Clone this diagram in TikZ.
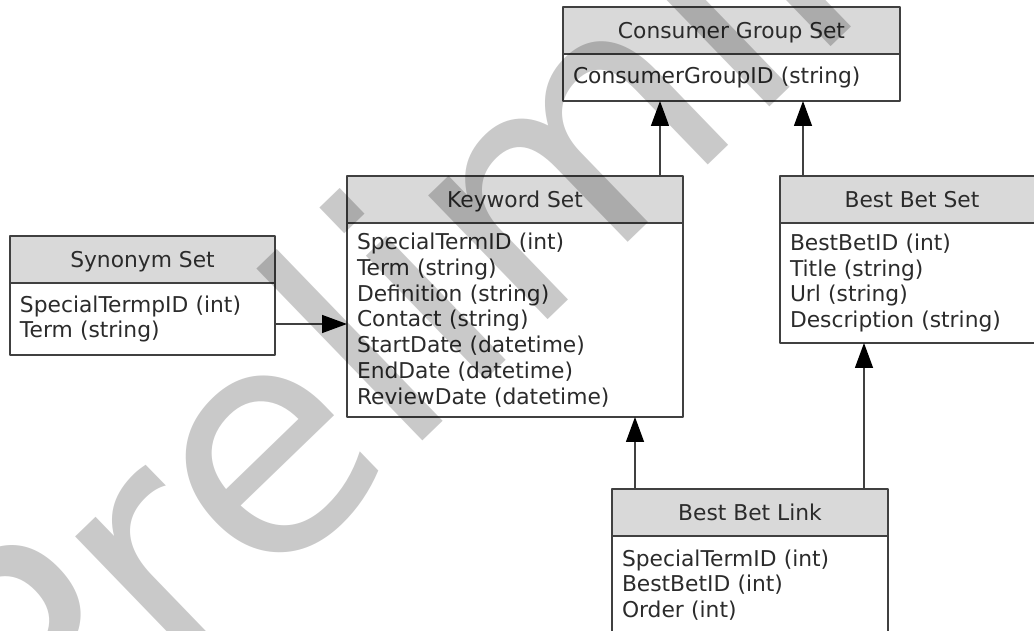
\documentclass[tikz,border=0pt]{standalone}
\usepackage{fontspec}
\newfontfamily\entfont{DejaVu Sans}
\usetikzlibrary{arrows.meta}
\definecolor{boxline}{HTML}{404040}
\definecolor{headfill}{HTML}{D9D9D9}
\definecolor{inktext}{HTML}{2B2B2B}
\tikzset{
	entity/.style={draw=boxline, line width=1pt, anchor=north west, outer sep=0pt, inner xsep=0.2cm, inner ysep=0pt, text=inktext, font=\entfont\fontsize{12.4}{14.7}\selectfont},
	ehead/.style={entity, fill=headfill, minimum height=0.94cm, text height=9pt, text depth=0pt},
	ebody/.style={entity, fill=white, align=left},
	rel/.style={draw=boxline, line width=0.8pt, -{Triangle[length=0.5cm, width=0.36cm, color=black]}},
	wmark/.style={font=\entfont\fontsize{179}{179}\selectfont, text=black, opacity=0.21, inner sep=0pt, anchor=base west, rotate=44}
}
\begin{document}
\begin{tikzpicture}[x=0.02cm, y=-0.02cm, line join=round]
	\useasboundingbox (0,0) rectangle (1034,631);
	\clip (0,0) rectangle (1034,631);
	\foreach \n/\x/\y/\w/\h/\t/\b in {
		cg/563/7/337/47/{Consumer Group Set}/{ConsumerGroupID (string)},
		kw/347/176/336/194/{Keyword Set}/{SpecialTermID (int)\\Term (string)\\Definition (string)\\Contact (string)\\StartDate (datetime)\\EndDate (datetime)\\ReviewDate (datetime)},
		syn/10/236/265/72/{Synonym Set}/{SpecialTermpID (int)\\Term (string)},
		bs/780/176/264/120/{Best Bet Set}/{BestBetID (int)\\Title (string)\\Url (string)\\Description (string)},
		lk/612/489/276/98/{Best Bet Link}/{SpecialTermID (int)\\BestBetID (int)\\Order (int)}}
	{
		\pgfmathsetmacro\bw{\w*0.02} \pgfmathsetmacro\tw{(\w-20)*0.02} \pgfmathsetmacro\bh{\h*0.02}
		\node[ehead, minimum width=\bw cm] (\n head) at (\x,\y) {\t};
		\node[ebody, text width=\tw cm, minimum height=\bh cm] (\n body) at (\n head.south west) {\b};
	}
	% lanes of the connectors
	\coordinate (lane1) at (660,0); \coordinate (lane2) at (803,0);
	\coordinate (lane3) at (635,0); \coordinate (lane4) at (864,0);
	\coordinate (lane5) at (0,324);
	\draw[rel] (kwhead.north -| lane1) -- (cgbody.south -| lane1);
	\draw[rel] (bshead.north -| lane2) -- (cgbody.south -| lane2);
	\draw[rel] (lkhead.north -| lane3) -- (kwbody.south -| lane3);
	\draw[rel] (lkhead.north -| lane4) -- (bsbody.south -| lane4);
	\draw[rel] (synbody.east |- lane5) -- (kwbody.west |- lane5);
	\node[wmark] (wm) at (42,809) {Preliminary};
\end{tikzpicture}
\end{document}
